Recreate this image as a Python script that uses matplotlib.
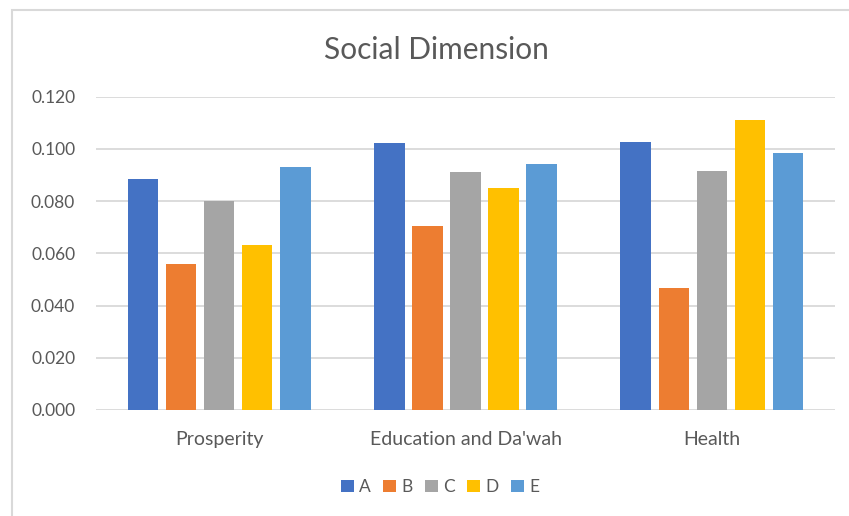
import matplotlib
matplotlib.use("Agg")
import matplotlib.pyplot as plt
import numpy as np
from matplotlib.patches import Rectangle

categories = ["Prosperity", "Education and Da'wah", "Health"]
series_names = ["A", "B", "C", "D", "E"]
A = [0.0886, 0.1021, 0.1026]
B = [0.0558, 0.0705, 0.0467]
C = [0.0800, 0.0913, 0.0914]
D = [0.0632, 0.0851, 0.1112]
E = [0.0929, 0.0943, 0.0983]
series = [A, B, C, D, E]
colors = ["#4472C4", "#ED7D31", "#A5A5A5", "#FFC000", "#5B9BD5"]
yticks = [0.0, 0.02, 0.04, 0.06, 0.08, 0.10, 0.12]

W, H = 849, 516
plt.rcParams['font.family'] = ['Lato', 'DejaVu Sans']
txt = "#595959"

fig = plt.figure(figsize=(W / 100, H / 100), dpi=100)
ax = fig.add_axes([96 / W, 1 - 410 / H, (835 - 96) / W, (410 - 96.7) / H])

x = np.arange(len(categories))
step = 38 / 246
width = 30.5 / 246
for j, (name, vals, col) in enumerate(zip(series_names, series, colors)):
    ax.bar(x + (j - 2) * step, vals, width=width, color=col, label=name, zorder=3)

ax.set_xlim(-0.5, 2.5)
ax.set_ylim(0, 0.12)
ax.set_yticks(yticks)
ax.set_yticklabels([f"{v:.3f}" for v in yticks], fontsize=12.5)
ax.set_xticks(x)
ax.set_xticklabels(categories, fontsize=14)
ax.grid(axis='y', color="#d9d9d9", linewidth=1.3, zorder=0)
for s in ax.spines.values():
    s.set_visible(False)
ax.tick_params(axis='both', length=0, colors=txt)
ax.tick_params(axis='y', pad=15)
ax.tick_params(axis='x', pad=15)

fig.text(436 / W, 1 - 59 / H, "Social Dimension", ha='center', va='baseline',
         fontsize=21.5, color=txt)

fig.patches.append(Rectangle((12 / W, -0.5), 2, 1.5 - 10 / H, transform=fig.transFigure,
                             fill=False, edgecolor="#d9d9d9", linewidth=1.5))

leg = fig.legend(loc='center', bbox_to_anchor=(440 / W, 1 - 487 / H), ncol=5,
                 frameon=False, handlelength=0.75, handleheight=0.75, handletextpad=0.3,
                 columnspacing=0.7, fontsize=12.5, labelcolor=txt)

fig.savefig("out.png", dpi=100)
